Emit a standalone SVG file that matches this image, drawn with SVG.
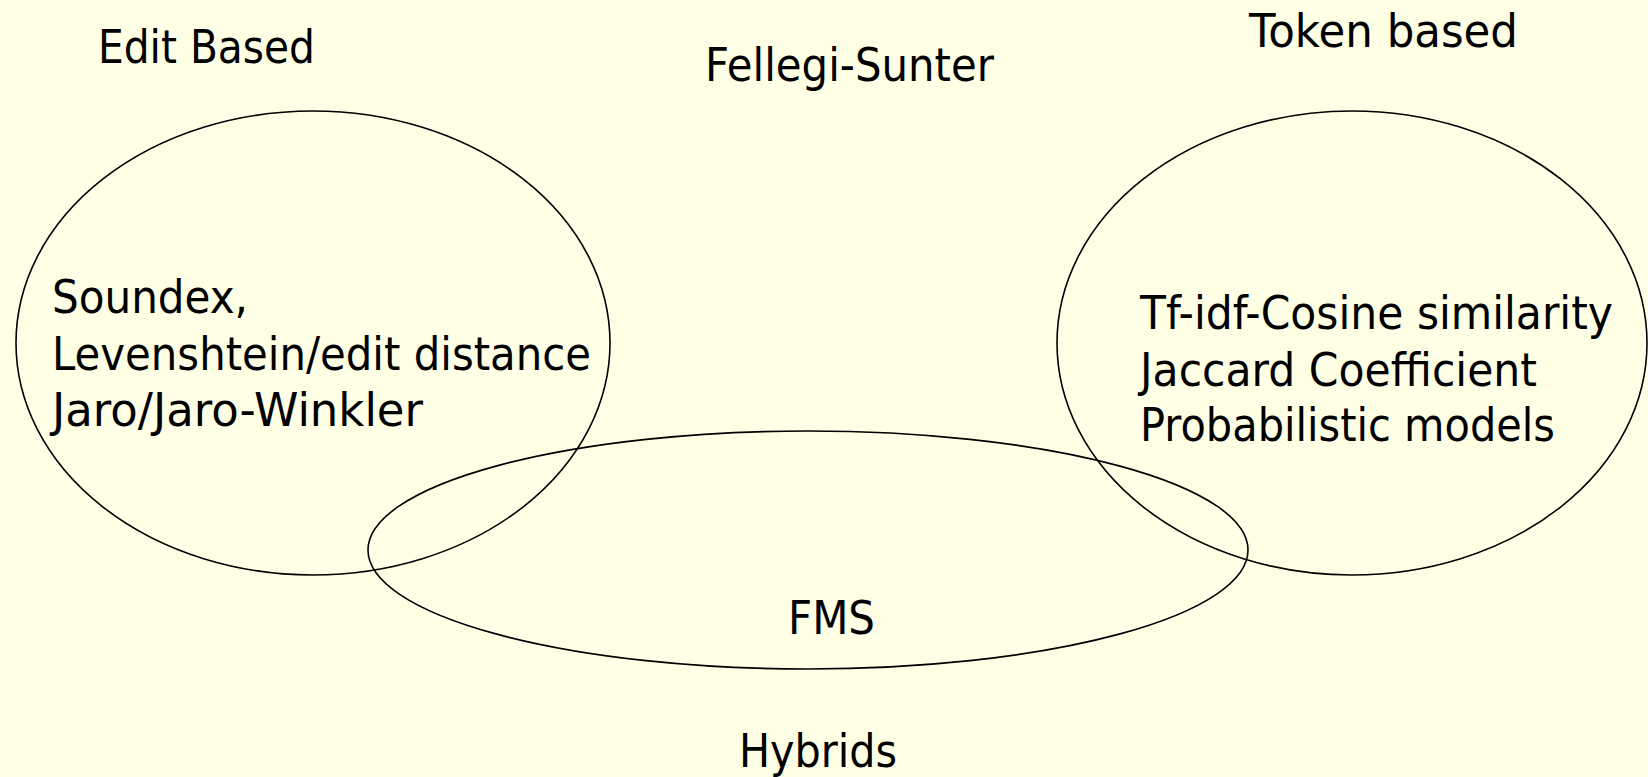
<svg xmlns="http://www.w3.org/2000/svg" width="1648" height="777" viewBox="0 0 1648 777">
<style>
.bg{fill:#FFFFE6}
.set{fill:none;stroke:#000;stroke-width:1.6}
text{font-family:"DejaVu Sans","Liberation Sans",sans-serif;font-size:46px;fill:#000}
</style>
<rect class="bg" x="0" y="0" width="1648" height="777"/>
<g id="edit-based">
<ellipse class="set" cx="313" cy="343" rx="297" ry="232"/>
<text x="98" y="63" textLength="217" lengthAdjust="spacingAndGlyphs">Edit Based</text>
<text x="52" y="313" textLength="196" lengthAdjust="spacingAndGlyphs">Soundex,</text>
<text x="52" y="370" textLength="539" lengthAdjust="spacingAndGlyphs">Levenshtein/edit distance</text>
<text x="52" y="426" textLength="371" lengthAdjust="spacingAndGlyphs">Jaro/Jaro-Winkler</text>
</g>
<g id="fellegi-sunter">
<text x="705" y="81" textLength="289" lengthAdjust="spacingAndGlyphs">Fellegi-Sunter</text>
</g>
<g id="token-based">
<ellipse class="set" cx="1352" cy="343" rx="295" ry="232"/>
<text x="1249" y="47" textLength="269" lengthAdjust="spacingAndGlyphs">Token based</text>
<text x="1140" y="329" textLength="473" lengthAdjust="spacingAndGlyphs">Tf-idf-Cosine similarity</text>
<text x="1140" y="386" textLength="397" lengthAdjust="spacingAndGlyphs">Jaccard Coefficient</text>
<text x="1140" y="441" textLength="415" lengthAdjust="spacingAndGlyphs">Probabilistic models</text>
</g>
<g id="hybrids">
<ellipse class="set" cx="808" cy="550" rx="440" ry="119"/>
<text x="788" y="634" textLength="87" lengthAdjust="spacingAndGlyphs">FMS</text>
<text x="739" y="767" textLength="158" lengthAdjust="spacingAndGlyphs">Hybrids</text>
</g>
<g id="connectors"/>
</svg>
